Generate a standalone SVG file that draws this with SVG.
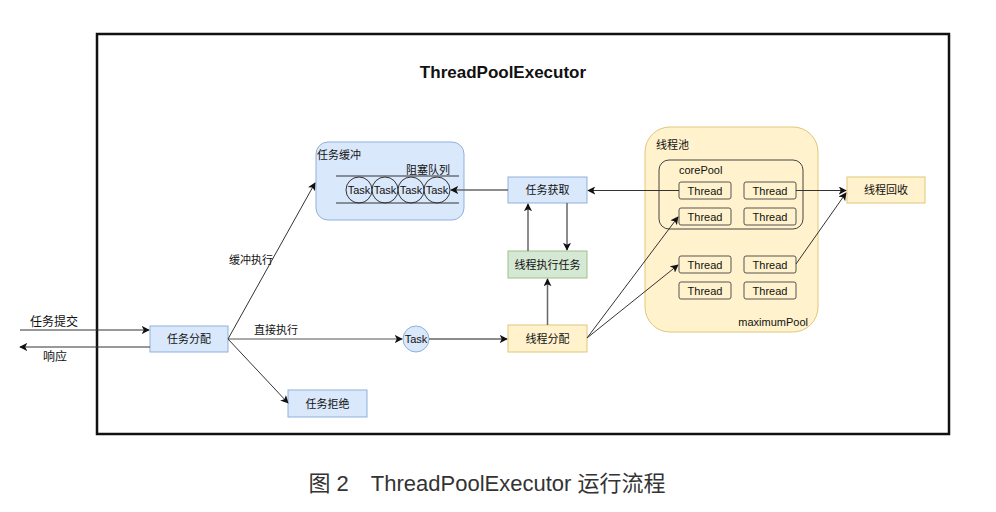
<svg xmlns="http://www.w3.org/2000/svg" width="996" height="512" viewBox="0 0 996 512">
<defs>
<style>
text{font-family:"Liberation Sans","Noto Sans CJK SC",sans-serif;fill:#111;}
.lbl{font-size:11px;text-anchor:middle;dominant-baseline:central;}
.blue{fill:#dae8fc;stroke:#8fb0dc;stroke-width:1;}
.green{fill:#d5e8d4;stroke:#9dc08b;stroke-width:1;}
.yellow{fill:#fff2cc;stroke:#e0c878;stroke-width:1;}
.thr{fill:#fff2cc;stroke:#555;stroke-width:1;}
.ln{fill:none;stroke:#333;stroke-width:1;}
.lg{fill:none;stroke:#666;stroke-width:1.5;}
</style>
<marker id="ah" viewBox="0 0 10 10" refX="9" refY="5" markerWidth="8" markerHeight="8" markerUnits="userSpaceOnUse" orient="auto">
<path d="M0,0 L10,5 L0,10 L2.5,5 Z" fill="#111"/>
</marker>
</defs>
<rect width="996" height="512" fill="#fff"/>
<rect x="97" y="34" width="852" height="400" fill="none" stroke="#111" stroke-width="2.5"/>
<text x="503" y="78" style="font-size:17px;font-weight:bold;text-anchor:middle;">ThreadPoolExecutor</text>

<g id="buffer">
<rect x="316" y="142" width="148" height="78" rx="12" class="blue"/>
<text x="317" y="155" style="font-size:11px;dominant-baseline:central;">任务缓冲</text>
<text x="428" y="170" class="lbl">阻塞队列</text>
<line x1="336" y1="176" x2="459" y2="176" stroke="#333" stroke-width="1"/>
<line x1="336" y1="203" x2="459" y2="203" stroke="#333" stroke-width="1"/>
<circle cx="359" cy="190" r="13" fill="none" stroke="#333"/>
<circle cx="385" cy="190" r="13" fill="none" stroke="#333"/>
<circle cx="411" cy="190" r="13" fill="none" stroke="#333"/>
<circle cx="437" cy="190" r="13" fill="none" stroke="#333"/>
<text x="359" y="190" class="lbl">Task</text>
<text x="385" y="190" class="lbl">Task</text>
<text x="411" y="190" class="lbl">Task</text>
<text x="437" y="190" class="lbl">Task</text>
</g>

<g id="pool">
<rect x="645" y="127" width="173" height="205" rx="25" class="yellow"/>
<text x="656" y="145" style="font-size:11px;dominant-baseline:central;">线程池</text>
<rect x="659" y="160" width="144" height="69" rx="10" fill="none" stroke="#444" stroke-width="1"/>
<text x="679" y="170" style="font-size:11px;dominant-baseline:central;">corePool</text>
<text x="808" y="322" style="font-size:11px;text-anchor:end;dominant-baseline:central;">maximumPool</text>
</g>
<g id="thread-1"><rect x="679" y="182" width="52" height="17" rx="2" class="thr"/><text x="705" y="190.5" class="lbl">Thread</text></g>
<g id="thread-2"><rect x="744" y="182" width="52" height="17" rx="2" class="thr"/><text x="770" y="190.5" class="lbl">Thread</text></g>
<g id="thread-3"><rect x="679" y="208" width="52" height="17" rx="2" class="thr"/><text x="705" y="216.5" class="lbl">Thread</text></g>
<g id="thread-4"><rect x="744" y="208" width="52" height="17" rx="2" class="thr"/><text x="770" y="216.5" class="lbl">Thread</text></g>
<g id="thread-5"><rect x="679" y="256" width="52" height="17" rx="2" class="thr"/><text x="705" y="264.5" class="lbl">Thread</text></g>
<g id="thread-6"><rect x="744" y="256" width="52" height="17" rx="2" class="thr"/><text x="770" y="264.5" class="lbl">Thread</text></g>
<g id="thread-7"><rect x="679" y="282" width="52" height="17" rx="2" class="thr"/><text x="705" y="290.5" class="lbl">Thread</text></g>
<g id="thread-8"><rect x="744" y="282" width="52" height="17" rx="2" class="thr"/><text x="770" y="290.5" class="lbl">Thread</text></g>

<g id="fetch"><rect x="508" y="177" width="79" height="26" class="blue"/><text x="547.5" y="190" class="lbl">任务获取</text></g>
<g id="exec"><rect x="508" y="251" width="79" height="27" class="green"/><text x="547.5" y="264.5" class="lbl">线程执行任务</text></g>
<g id="assignThread"><rect x="508" y="325" width="79" height="27" class="yellow"/><text x="547.5" y="338.5" class="lbl">线程分配</text></g>
<g id="recycle"><rect x="847" y="177" width="78" height="26" class="yellow"/><text x="886" y="190" class="lbl">线程回收</text></g>
<g id="dispatch"><rect x="150" y="326" width="78" height="26" class="blue"/><text x="189" y="339" class="lbl">任务分配</text></g>
<g id="reject"><rect x="288" y="390" width="79" height="27" class="blue"/><text x="327.5" y="403.5" class="lbl">任务拒绝</text></g>
<g id="task"><circle cx="416" cy="339" r="13" fill="#dae8fc" stroke="#8fb0dc"/><text x="416" y="339" class="lbl">Task</text></g>

<g id="connectors">
<line x1="20" y1="330" x2="149" y2="330" class="ln" marker-end="url(#ah)"/>
<line x1="150" y1="347" x2="20" y2="347" class="ln" marker-end="url(#ah)"/>
<line x1="228" y1="339" x2="315" y2="183" class="ln" marker-end="url(#ah)"/>
<line x1="228" y1="339" x2="402" y2="339" class="ln" style="stroke:#555" marker-end="url(#ah)"/>
<line x1="228" y1="339" x2="288" y2="403" class="ln" marker-end="url(#ah)"/>
<line x1="429" y1="339" x2="507" y2="339" class="lg" marker-end="url(#ah)"/>
<line x1="508" y1="190" x2="451" y2="190" class="lg" marker-end="url(#ah)"/>
<line x1="528" y1="251" x2="528" y2="204" class="lg" marker-end="url(#ah)"/>
<line x1="567" y1="203" x2="567" y2="250" class="lg" marker-end="url(#ah)"/>
<line x1="547.5" y1="325" x2="547.5" y2="279" class="lg" marker-end="url(#ah)"/>
<line x1="679" y1="190.5" x2="588" y2="190.5" class="ln" marker-end="url(#ah)"/>
<line x1="587" y1="338" x2="678" y2="217" class="ln" marker-end="url(#ah)"/>
<line x1="587" y1="338" x2="678" y2="265" class="ln" marker-end="url(#ah)"/>
<line x1="796" y1="190.5" x2="846" y2="190.5" class="ln" marker-end="url(#ah)"/>
<line x1="796" y1="264" x2="846" y2="193" class="ln" marker-end="url(#ah)"/>
</g>

<text x="251" y="260" style="font-size:11px;text-anchor:middle;dominant-baseline:central;">缓冲执行</text>
<text x="276" y="330" style="font-size:11px;text-anchor:middle;dominant-baseline:central;">直接执行</text>
<text x="54" y="322" style="font-size:12px;text-anchor:middle;dominant-baseline:central;">任务提交</text>
<text x="55" y="357" style="font-size:12px;text-anchor:middle;dominant-baseline:central;">响应</text>

<text x="487" y="483" style="font-size:22px;text-anchor:middle;dominant-baseline:central;fill:#333;">图 2　ThreadPoolExecutor 运行流程</text>
</svg>
